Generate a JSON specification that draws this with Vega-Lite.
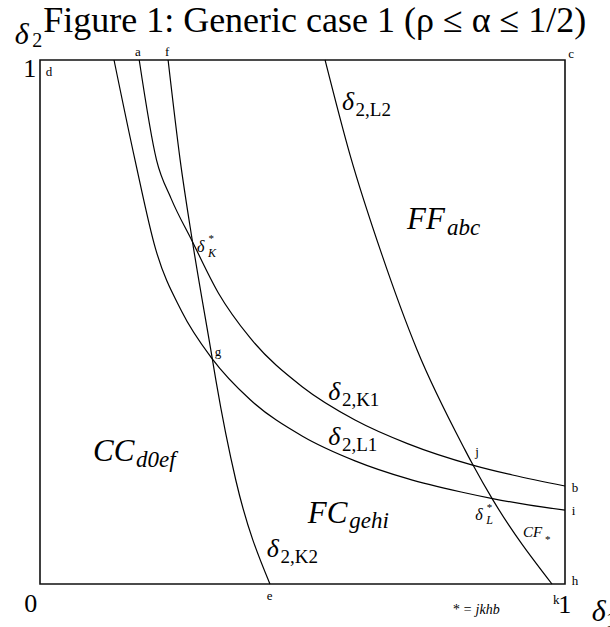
{
  "$schema": "https://vega.github.io/schema/vega-lite/v6.json",
  "width": 525,
  "height": 524,
  "autosize": {"type": "none"},
  "padding": {"left": 40, "top": 60, "right": 45, "bottom": 43},
  "config": {"view": {"stroke": "#111", "strokeWidth": 1.6}, "text": {"font": "Liberation Serif", "color": "black", "align": "left", "baseline": "alphabetic"}},
  "datasets": {
    "curves": [
      {"c": "L1", "x": 0.141, "y": 1}, {"c": "L1", "x": 0.181, "y": 0.809}, {"c": "L1", "x": 0.22, "y": 0.64}, {"c": "L1", "x": 0.27, "y": 0.52}, {"c": "L1", "x": 0.327, "y": 0.431}, {"c": "L1", "x": 0.4, "y": 0.352}, {"c": "L1", "x": 0.5, "y": 0.282}, {"c": "L1", "x": 0.6, "y": 0.235}, {"c": "L1", "x": 0.7, "y": 0.201}, {"c": "L1", "x": 0.8, "y": 0.176}, {"c": "L1", "x": 0.862, "y": 0.163}, {"c": "L1", "x": 0.93, "y": 0.151}, {"c": "L1", "x": 1, "y": 0.141},
      {"c": "K1", "x": 0.189, "y": 1}, {"c": "K1", "x": 0.222, "y": 0.809}, {"c": "K1", "x": 0.25, "y": 0.735}, {"c": "K1", "x": 0.289, "y": 0.656}, {"c": "K1", "x": 0.34, "y": 0.555}, {"c": "K1", "x": 0.4, "y": 0.47}, {"c": "K1", "x": 0.5, "y": 0.376}, {"c": "K1", "x": 0.6, "y": 0.313}, {"c": "K1", "x": 0.7, "y": 0.268}, {"c": "K1", "x": 0.824, "y": 0.227}, {"c": "K1", "x": 0.9, "y": 0.208}, {"c": "K1", "x": 1, "y": 0.187},
      {"c": "K2", "x": 0.244, "y": 1}, {"c": "K2", "x": 0.267, "y": 0.809}, {"c": "K2", "x": 0.29, "y": 0.656}, {"c": "K2", "x": 0.328, "y": 0.431}, {"c": "K2", "x": 0.335, "y": 0.389}, {"c": "K2", "x": 0.373, "y": 0.198}, {"c": "K2", "x": 0.438, "y": 0},
      {"c": "L2", "x": 0.543, "y": 1}, {"c": "L2", "x": 0.5905, "y": 0.819}, {"c": "L2", "x": 0.6514, "y": 0.628}, {"c": "L2", "x": 0.7181, "y": 0.447}, {"c": "L2", "x": 0.8095, "y": 0.256}, {"c": "L2", "x": 0.8248, "y": 0.227}, {"c": "L2", "x": 0.8629, "y": 0.16}, {"c": "L2", "x": 0.9752, "y": 0}
    ],
    "labels": [
      {"g": "title", "t": "Figure 1: Generic case 1 (ρ ≤ α ≤ 1/2)", "x": 0.006, "y": 1.054},
      {"g": "num", "t": "1", "x": -0.032, "y": 0.968},
      {"g": "num", "t": "0", "x": -0.03, "y": -0.053},
      {"g": "num", "t": "1", "x": 0.987, "y": -0.055},
      {"g": "axis", "t": "δ", "x": -0.048, "y": 1.03},
      {"g": "axis", "t": "δ", "x": 1.051, "y": -0.071},
      {"g": "axissub", "t": "2", "x": -0.015, "y": 1.025},
      {"g": "axissub", "t": "1", "x": 1.078, "y": -0.082},
      {"g": "small", "t": "a", "x": 0.181, "y": 1.008},
      {"g": "small", "t": "f", "x": 0.238, "y": 1.008},
      {"g": "small", "t": "c", "x": 1.006, "y": 1.004},
      {"g": "small", "t": "d", "x": 0.011, "y": 0.97},
      {"g": "small", "t": "b", "x": 1.013, "y": 0.176},
      {"g": "small", "t": "i", "x": 1.013, "y": 0.132},
      {"g": "small", "t": "h", "x": 1.013, "y": -0.002},
      {"g": "small", "t": "k", "x": 0.977, "y": -0.038},
      {"g": "small", "t": "e", "x": 0.432, "y": -0.03},
      {"g": "small", "t": "g", "x": 0.333, "y": 0.435},
      {"g": "small", "t": "j", "x": 0.829, "y": 0.244},
      {"g": "cdelta", "t": "δ", "x": 0.575, "y": 0.905},
      {"g": "cdelta", "t": "δ", "x": 0.549, "y": 0.351},
      {"g": "cdelta", "t": "δ", "x": 0.549, "y": 0.265},
      {"g": "cdelta", "t": "δ", "x": 0.432, "y": 0.052},
      {"g": "csub", "t": "2,L2", "x": 0.601, "y": 0.893},
      {"g": "csub", "t": "2,K1", "x": 0.575, "y": 0.34},
      {"g": "csub", "t": "2,L1", "x": 0.575, "y": 0.254},
      {"g": "csub", "t": "2,K2", "x": 0.458, "y": 0.04},
      {"g": "region", "t": "FF", "x": 0.699, "y": 0.678},
      {"g": "region", "t": "FC", "x": 0.51, "y": 0.116},
      {"g": "region", "t": "CC", "x": 0.101, "y": 0.235},
      {"g": "regsub", "t": "abc", "x": 0.775, "y": 0.666},
      {"g": "regsub", "t": "gehi", "x": 0.589, "y": 0.106},
      {"g": "regsub", "t": "d0ef", "x": 0.183, "y": 0.223},
      {"g": "sdelta", "t": "δ", "x": 0.299, "y": 0.634},
      {"g": "sdelta", "t": "δ", "x": 0.829, "y": 0.122},
      {"g": "sstar", "t": "*", "x": 0.321, "y": 0.652},
      {"g": "sstar", "t": "*", "x": 0.851, "y": 0.14},
      {"g": "ssub", "t": "K", "x": 0.32, "y": 0.624},
      {"g": "ssub", "t": "L", "x": 0.85, "y": 0.114},
      {"g": "cf", "t": "CF", "x": 0.92, "y": 0.09},
      {"g": "cfsub", "t": "*", "x": 0.962, "y": 0.078},
      {"g": "note", "t": "* = jkhb", "x": 0.785, "y": -0.057}
    ]
  },
  "layer": [
    {
      "data": {"name": "curves"},
      "mark": {"type": "line", "color": "black", "strokeWidth": 1.2, "interpolate": "monotone"},
      "encoding": {
        "x": {"field": "x", "type": "quantitative", "scale": {"domain": [0, 1], "nice": false, "zero": false}, "axis": null},
        "y": {"field": "y", "type": "quantitative", "scale": {"domain": [0, 1], "nice": false, "zero": false}, "axis": null},
        "detail": {"field": "c"}
      }
    },
    {
      "mark": {"type": "rule", "color": "#222", "strokeWidth": 2.4},
      "encoding": {"y": {"datum": 0}}
    },
    {
      "data": {"name": "labels"},
      "encoding": {
        "x": {"field": "x", "type": "quantitative"},
        "y": {"field": "y", "type": "quantitative"},
        "text": {"field": "t"}
      },
      "layer": [
        {"transform": [{"filter": "datum.g == 'title'"}], "mark": {"type": "text", "fontSize": 36}},
        {"transform": [{"filter": "datum.g == 'num'"}], "mark": {"type": "text", "fontSize": 26}},
        {"transform": [{"filter": "datum.g == 'axis'"}], "mark": {"type": "text", "fontSize": 30, "fontStyle": "italic"}},
        {"transform": [{"filter": "datum.g == 'axissub'"}], "mark": {"type": "text", "fontSize": 20}},
        {"transform": [{"filter": "datum.g == 'small'"}], "mark": {"type": "text", "fontSize": 13}},
        {"transform": [{"filter": "datum.g == 'cdelta'"}], "mark": {"type": "text", "fontSize": 26, "fontStyle": "italic"}},
        {"transform": [{"filter": "datum.g == 'csub'"}], "mark": {"type": "text", "fontSize": 19}},
        {"transform": [{"filter": "datum.g == 'region'"}], "mark": {"type": "text", "fontSize": 31, "fontStyle": "italic"}},
        {"transform": [{"filter": "datum.g == 'regsub'"}], "mark": {"type": "text", "fontSize": 23, "fontStyle": "italic"}},
        {"transform": [{"filter": "datum.g == 'sdelta'"}], "mark": {"type": "text", "fontSize": 16, "fontStyle": "italic"}},
        {"transform": [{"filter": "datum.g == 'sstar'"}], "mark": {"type": "text", "fontSize": 11}},
        {"transform": [{"filter": "datum.g == 'ssub'"}], "mark": {"type": "text", "fontSize": 12, "fontStyle": "italic"}},
        {"transform": [{"filter": "datum.g == 'cf'"}], "mark": {"type": "text", "fontSize": 15, "fontStyle": "italic"}},
        {"transform": [{"filter": "datum.g == 'cfsub'"}], "mark": {"type": "text", "fontSize": 11}},
        {"transform": [{"filter": "datum.g == 'note'"}], "mark": {"type": "text", "fontSize": 14, "fontStyle": "italic"}}
      ]
    }
  ]
}
